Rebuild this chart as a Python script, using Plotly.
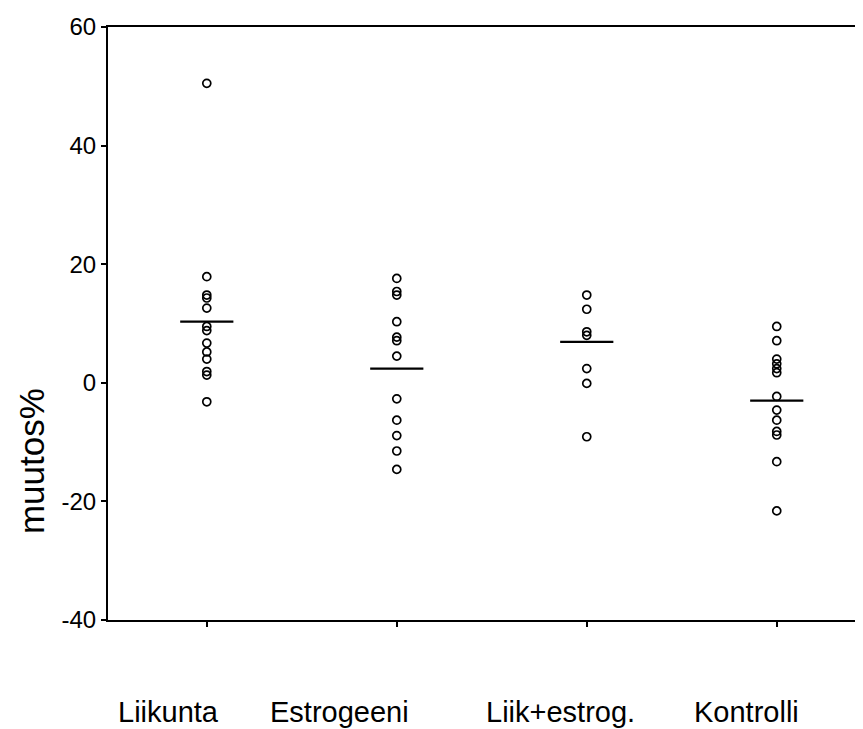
import plotly.graph_objects as go

categories = ["Liikunta", "Estrogeeni", "Liik+estrog.", "Kontrolli"]

liikunta = [50.5, 17.9, 14.8, 14.3, 12.6, 9.5, 8.8, 6.7, 5.2, 4.0, 1.9, 1.3, -3.2]
estrogeeni = [17.6, 15.4, 14.8, 10.3, 7.7, 7.1, 4.5, -2.7, -6.3, -8.9, -11.5, -14.6]
liik_estrog = [14.8, 12.4, 8.6, 8.0, 2.4, -0.1, -9.1]
kontrolli = [9.5, 7.1, 4.0, 3.2, 2.4, 1.7, -2.3, -4.6, -6.3, -8.2, -8.8, -13.3, -21.6]

means = [10.3, 2.4, 6.9, -3.0]

y_ticks = [-40, -20, 0, 20, 40, 60]

groups = [liikunta, estrogeeni, liik_estrog, kontrolli]

# layout-only: horizontal shift of each category label (in category units)
label_shift = [-0.20, -0.30, -0.14, -0.16]

fig = go.Figure()

for i, vals in enumerate(groups):
    fig.add_trace(go.Scatter(
        x=[i] * len(vals), y=vals, mode="markers",
        marker=dict(symbol="circle-open", size=8, color="black",
                    line=dict(color="black", width=1.7)),
        showlegend=False, hoverinfo="y",
    ))

fig.add_trace(go.Scatter(
    x=list(range(len(categories))), y=means, mode="markers",
    marker=dict(symbol="line-ew-open", size=38, color="black",
                line=dict(color="black", width=2.2)),
    showlegend=False, hoverinfo="y",
))

annotations = [dict(
    text="muutos%", textangle=-90, showarrow=False,
    xref="paper", yref="paper", x=-0.102, y=0.268,
    xanchor="center", yanchor="middle",
    font=dict(size=35, color="black"),
)]
for i, name in enumerate(categories):
    annotations.append(dict(
        text=name, showarrow=False,
        xref="x", yref="paper", x=i + label_shift[i], y=-0.155,
        xanchor="center", yanchor="middle",
        font=dict(size=29, color="black"),
    ))

fig.update_layout(
    width=855, height=721,
    margin=dict(l=100, r=0, t=19, b=109, autoexpand=False),
    paper_bgcolor="white", plot_bgcolor="white",
    font=dict(family="Liberation Sans, Arial, sans-serif", color="black"),
    xaxis=dict(
        range=[-0.52, 3.454],
        tickmode="array", tickvals=list(range(len(categories))),
        ticktext=["" for _ in categories],
        showline=True, linecolor="black", linewidth=2, mirror=True,
        ticks="outside", ticklen=5, tickwidth=1.5, tickcolor="black",
        showgrid=False, zeroline=False, automargin=False,
    ),
    yaxis=dict(
        range=[-40, 60],
        tickmode="array", tickvals=y_ticks, ticktext=[str(v) for v in y_ticks],
        showline=True, linecolor="black", linewidth=2, mirror=False,
        ticks="outside", ticklen=5, tickwidth=1.5, tickcolor="black",
        showgrid=False, zeroline=False, automargin=False,
        tickfont=dict(size=24),
    ),
    annotations=annotations,
)

fig.write_html("out.html")
